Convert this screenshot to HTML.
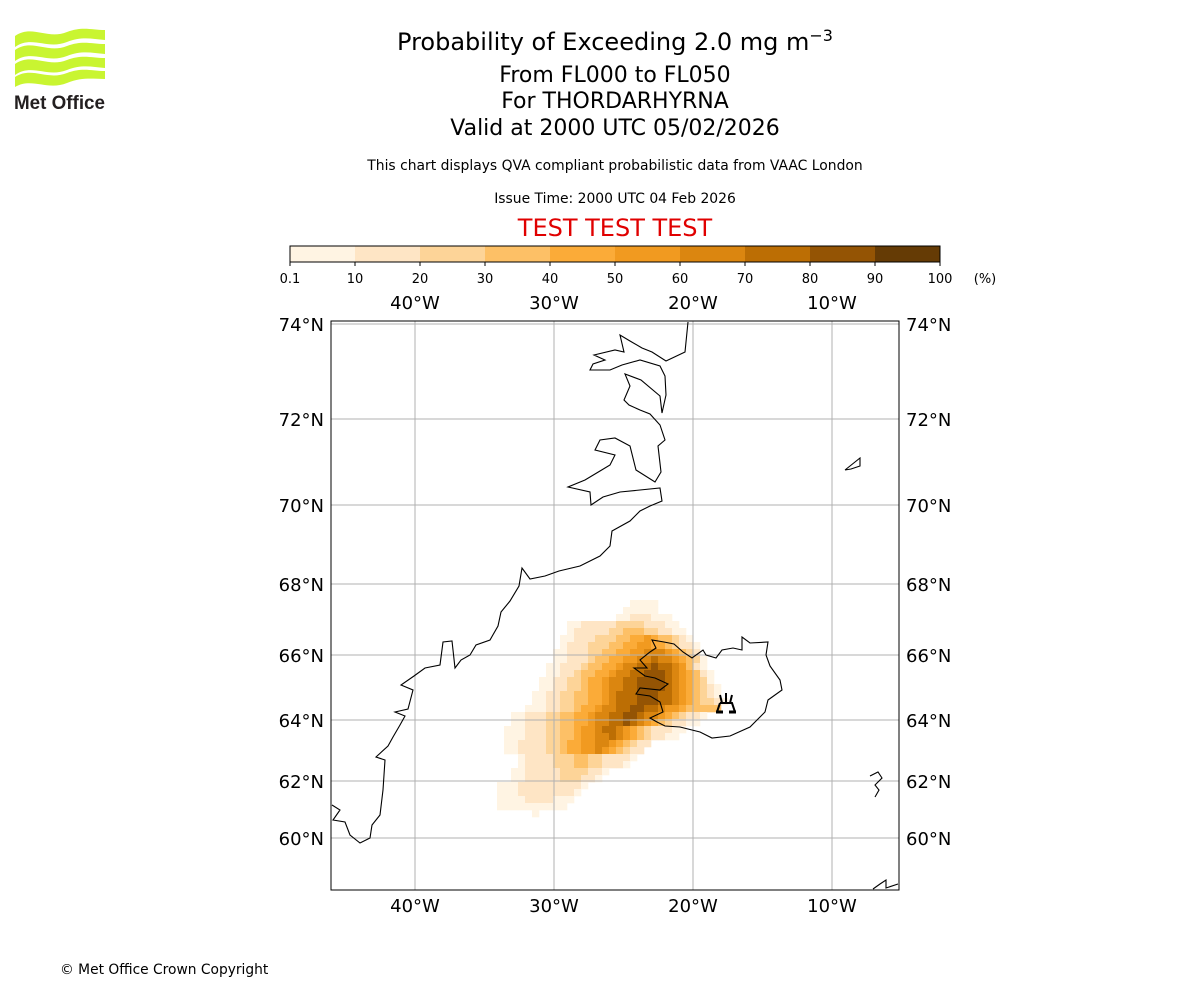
<!DOCTYPE html>
<html><head><meta charset="utf-8">
<style>
body{margin:0;background:#fff;font-family:"Liberation Sans","DejaVu Sans",sans-serif;}
#wrap{position:relative;width:1200px;height:1000px;overflow:hidden;}
.t{position:absolute;left:0;width:1230px;text-align:center;color:#000;white-space:nowrap;font-family:"DejaVu Sans","Liberation Sans",sans-serif;}
</style></head><body>
<div id="wrap">
<svg style="position:absolute;left:12px;top:28px" width="100" height="86" viewBox="0 0 100 86">
 <g fill="#c9f531">
  <path d="M3 8 C20 -4 35 12 55 4 C70 -2 80 2 93 2 L93 12 C80 11 70 8 55 14 C35 22 20 7 3 19Z"/>
  <path d="M3 22 C20 10 35 26 55 18 C70 12 80 16 93 16 L93 26 C80 25 70 22 55 28 C35 36 20 21 3 33Z"/>
  <path d="M3 36 C20 24 35 40 55 32 C70 26 80 30 93 30 L93 40 C80 39 70 36 55 42 C35 50 20 35 3 47Z"/>
  <path d="M3 49 C20 38 35 53 55 45 C70 39 80 43 93 43 L93 51 C80 51 70 49 55 55 C35 63 20 49 3 59Z"/>
 </g>
 <text x="2" y="81" font-family="Liberation Sans,sans-serif" font-weight="bold" font-size="19" fill="#231f20" textLength="91" lengthAdjust="spacingAndGlyphs">Met Office</text>
</svg>
<div class="t" style="top:26px;font-size:24px">Probability of Exceeding 2.0 mg m<sup style="font-size:16px">−3</sup></div>
<div class="t" style="top:63px;font-size:22px">From FL000 to FL050</div>
<div class="t" style="top:89px;font-size:22px">For THORDARHYRNA</div>
<div class="t" style="top:116px;font-size:22px">Valid at 2000 UTC 05/02/2026</div>
<div class="t" style="top:158px;font-size:13.9px">This chart displays QVA compliant probabilistic data from VAAC London</div>
<div class="t" style="top:191px;font-size:13.9px">Issue Time: 2000 UTC 04 Feb 2026</div>
<div class="t" style="top:214px;font-size:24px;color:#e00000">TEST TEST TEST</div>
<div style="position:absolute;left:60px;top:962px;font-size:13.8px;font-family:'DejaVu Sans',sans-serif">© Met Office Crown Copyright</div>
<svg id="svg" width="1200" height="1000" style="position:absolute;left:0;top:0" font-family="DejaVu Sans, Liberation Sans, sans-serif"></svg>
</div>
<script>
const levels=[0.1,10,20,30,40,50,60,70,80,90,100];
const levelColors=["#fff4e3","#fee5c5","#fdd498","#fdc066","#fbab38","#f19a20","#db8610","#bc6e04","#945404","#653b05"];
const lonTicks=[-40,-30,-20,-10];
const lonLabels=["40°W","30°W","20°W","10°W"];
const latTicks=[74,72,70,68,66,64,62,60];
const latLabels=["74°N","72°N","70°N","68°N","66°N","64°N","62°N","60°N"];
const latPix=[324,419,505,584,655,720,781,838];
const plumeRowStart=[19,18,17,10,10,9,9,8,8,7,7,6,6,5,5,4,2,2,1,1,1,1,3,3,2,2,0,0,0,0,5];
const plumeRows=["1111","11111","11222111","1122222333322211","12222233444332211","1122233344556544321","12223334455665543221","112223344556677765432","1122234455667787765431","11222344556778898876421","112234455677889998765421","1122334556778899998765431","11223345567788999987654321","112233445567888999887654321","1122334455678889998876543321","1112233455677889988766544444","1122233445567788998776543221","112223344556778898765432211","11122233445667887654322211","1112223344566778765432211","112222334556677654322","11222233455667654322","12222333443322221","1222233344332221","11222223333221","1122222333221","1112222222221","111222222221","11112222111","1111111111","1"];
const NS="http://www.w3.org/2000/svg";
const svg=document.getElementById('svg');
function mk(tag,attrs,parent){const e=document.createElementNS(NS,tag);for(const k in attrs)e.setAttribute(k,attrs[k]);(parent||svg).appendChild(e);return e;}
function xLon(l){return 415+(l+40)*13.9;}
function yLat(v){for(let i=0;i<latTicks.length-1;i++){if(v<=latTicks[i]&&v>=latTicks[i+1]){const f=(latTicks[i]-v)/(latTicks[i]-latTicks[i+1]);return latPix[i]+f*(latPix[i+1]-latPix[i]);}}return v>74?324-(v-74)*47:838+(60-v)*28;}
const cbX=290,cbW=650,cbY=246,cbH=16;
for(let i=0;i<levelColors.length;i++){
 const r=mk('rect',{x:cbX+i*cbW/10,y:cbY,width:cbW/10+0.5,height:cbH,fill:levelColors[i]});
 
 
}
const cbb=mk('rect',{x:cbX,y:cbY,width:cbW,height:cbH,fill:'none',stroke:'#000','stroke-width':1});


levels.forEach((l,i)=>{const x=cbX+i*cbW/10;mk('line',{x1:x,x2:x,y1:cbY+cbH,y2:cbY+cbH+4,stroke:'#000'});
 const t=mk('text',{x:x,y:283,'font-size':13,'text-anchor':'middle'});t.textContent=String(l);
 
 });
const unit=mk('text',{x:985,y:283,'font-size':13,'text-anchor':'middle'});unit.textContent='(%)';


const cell=7,gx0=497,gy0=600;
const pg=mk('g',{});


plumeRows.forEach((row,r)=>{for(let j=0;j<row.length;j++){const v=+row[j];if(!v)continue;
 const c=mk('rect',{x:gx0+(plumeRowStart[r]+j)*cell,y:gy0+r*cell,width:cell+0.3,height:cell+0.3,fill:levelColors[v-1]},pg);
 
 }});
const AX={x:331,y:321,w:568,h:569};
lonTicks.forEach((l,i)=>{const x=xLon(l);mk('line',{x1:x,x2:x,y1:AX.y,y2:AX.y+AX.h,stroke:'#b0b0b0'});
 [303,906].forEach(y=>{const t=mk('text',{x:x,y:y+6,'font-size':18,'text-anchor':'middle'});t.textContent=lonLabels[i];
 
 });});
latTicks.forEach((v,i)=>{const y=yLat(v);mk('line',{x1:AX.x,x2:AX.x+AX.w,y1:y,y2:y,stroke:'#b0b0b0'});
 const a=mk('text',{x:324,y:y+7,'font-size':18,'text-anchor':'end'});a.textContent=latLabels[i];
 
 
 const b=mk('text',{x:906,y:y+7,'font-size':18,'text-anchor':'start'});b.textContent=latLabels[i];
 
 });
const coast=[
"332,805 340,810 333,820 345,822 350,835 360,843 370,838 372,825 380,815 383,790 385,760 376,757 388,746 393,737 400,725 405,716 395,712 408,709 413,690 401,685 414,676 425,668 440,665 443,642 452,641 455,668 461,660 470,655 476,645 490,640 498,626 501,612 510,601 519,586 522,568 530,579 545,576 559,571 580,566 600,556 610,546 612,531 630,521 640,511 650,506 662,501 660,488 640,490 620,492 603,497 591,505 590,492 568,487 585,480 600,471 610,465 615,455 595,450 600,440 615,438 630,446 636,470 655,482 661,472 658,446 665,440 660,425 650,414 640,410 629,405 624,400 630,386 625,374 641,380 660,396 662,413 666,395 665,376 660,366 640,360 622,365 610,370 590,370 593,364 605,360 594,355 615,350 624,352 620,335 630,341 642,348 652,352 666,361 685,352 688,322",
"657,722 665,726 680,727 700,732 712,738 730,736 750,727 765,712 768,700 782,690 780,680 770,666 766,655 768,642 750,643 742,637 742,650 733,648 722,650 716,658 706,655 703,650 692,658 683,652 674,644 664,642 652,640 656,648 650,652 640,660 647,668 634,668 645,676 655,678 668,684 660,690 640,688 636,694 650,696 660,702 663,712 650,718 657,722",
"845,470 855,462 860,458 860,466 851,469 845,470",
"870,776 878,772 882,778 875,785 879,790 875,797",
"873,889 880,884 886,880 886,888 898,884"];
coast.forEach(p=>{const e=mk('polyline',{points:p,fill:'none',stroke:'#000','stroke-width':1.1});
 
 });
const vg=mk('g',{stroke:'#000','stroke-width':2,fill:'none'});


mk('path',{d:'M720 695 L722 703 M726 693 L726 703 M732 695 L730 703 M720 703 L732 703 L735 712 M720 703 L717 712'},vg);
mk('line',{x1:716,x2:723,y1:712,y2:712,'stroke-width':3},vg);
mk('line',{x1:729,x2:736,y1:712,y2:712,'stroke-width':3},vg);
const fr=mk('rect',{x:AX.x,y:AX.y,width:AX.w,height:AX.h,fill:'none',stroke:'#000','stroke-width':1});


</script>
</body></html>
